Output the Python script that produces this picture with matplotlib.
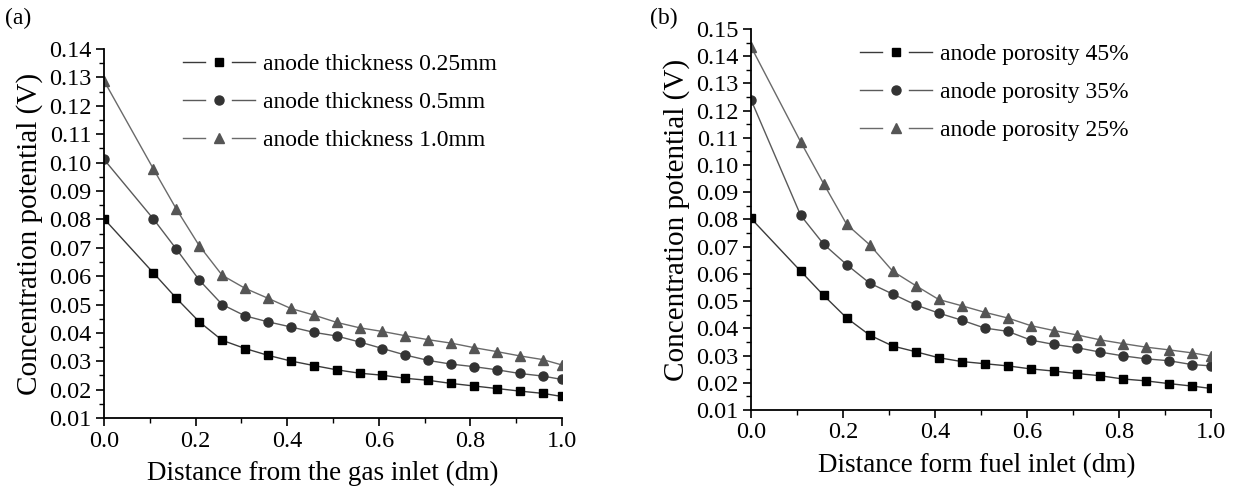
import matplotlib
matplotlib.use("Agg")
import matplotlib.pyplot as plt
from matplotlib.lines import Line2D
from matplotlib.legend_handler import HandlerBase
from matplotlib.ticker import MultipleLocator, FormatStrFormatter

plt.rcParams["font.family"] = ["Liberation Serif", "DejaVu Serif"]

# shared x positions of the data points (dm)
x = [0.0, 0.108, 0.158, 0.208, 0.258, 0.308, 0.358, 0.408, 0.458, 0.508,
     0.558, 0.608, 0.658, 0.708, 0.758, 0.808, 0.858, 0.908, 0.958, 1.0]

# panel (a): anode thickness
thick_025 = [0.0802, 0.0611, 0.0522, 0.0439, 0.0374, 0.0345, 0.0321, 0.0301, 0.0285, 0.0270,
             0.0258, 0.0251, 0.0240, 0.0233, 0.0222, 0.0213, 0.0204, 0.0195, 0.0187, 0.0176]
thick_05 = [0.1011, 0.0801, 0.0695, 0.0586, 0.0500, 0.0460, 0.0439, 0.0421, 0.0402, 0.0389,
            0.0368, 0.0345, 0.0322, 0.0303, 0.0290, 0.0281, 0.0270, 0.0257, 0.0248, 0.0236]
thick_10 = [0.1288, 0.0977, 0.0836, 0.0707, 0.0603, 0.0557, 0.0522, 0.0486, 0.0463, 0.0437,
            0.0418, 0.0405, 0.0390, 0.0376, 0.0364, 0.0348, 0.0334, 0.0319, 0.0306, 0.0287]

# panel (b): anode porosity
poro_45 = [0.0804, 0.0610, 0.0521, 0.0438, 0.0375, 0.0335, 0.0314, 0.0292, 0.0278, 0.0270,
           0.0262, 0.0251, 0.0243, 0.0234, 0.0226, 0.0214, 0.0207, 0.0197, 0.0188, 0.0179]
poro_35 = [0.1240, 0.0815, 0.0709, 0.0634, 0.0566, 0.0526, 0.0486, 0.0456, 0.0430, 0.0401,
           0.0389, 0.0357, 0.0341, 0.0329, 0.0313, 0.0299, 0.0288, 0.0281, 0.0267, 0.0262]
poro_25 = [0.1435, 0.1085, 0.0931, 0.0782, 0.0707, 0.0610, 0.0557, 0.0506, 0.0483, 0.0459,
           0.0438, 0.0410, 0.0392, 0.0376, 0.0358, 0.0344, 0.0331, 0.0321, 0.0310, 0.0298]

labels_a = ["anode thickness 0.25mm", "anode thickness 0.5mm", "anode thickness 1.0mm"]
labels_b = ["anode porosity 45%", "anode porosity 35%", "anode porosity 25%"]

styles = [
    dict(marker="s", color="#3a3a3a", mfc="#000000", mec="#000000", ms=6),
    dict(marker="o", color="#5a5a5a", mfc="#333333", mec="#333333", ms=6.5),
    dict(marker="^", color="#6a6a6a", mfc="#555555", mec="#555555", ms=7),
]


class GapLineHandler(HandlerBase):
    # origin-style legend key: line, gap, marker, gap, line
    def create_artists(self, legend, orig, xd, yd, width, height, fontsize, trans):
        x0 = -xd
        yc = height / 2 - yd
        color = orig.get_color()
        lw = orig.get_linewidth()
        left = Line2D([x0, x0 + 0.3 * width], [yc, yc], color=color, lw=lw)
        right = Line2D([x0 + 0.68 * width, x0 + width], [yc, yc], color=color, lw=lw)
        mark = Line2D([x0 + width / 2], [yc], linestyle="none", marker=orig.get_marker(),
                      markersize=orig.get_markersize(), markerfacecolor=orig.get_markerfacecolor(),
                      markeredgecolor=orig.get_markeredgecolor())
        for a in (left, right, mark):
            a.set_transform(trans)
        return [left, right, mark]


def draw_panel(ax, series, labels, ymin, ymax, xlabel, legend_xy, xlabel_x):
    handles = []
    for y, lab, st in zip(series, labels, styles):
        h, = ax.plot(x, y, lw=1.0, label=lab, **st)
        handles.append(h)
    ax.set_xlim(0, 1.0)
    ax.set_ylim(ymin, ymax)
    ax.xaxis.set_major_locator(MultipleLocator(0.2))
    ax.xaxis.set_minor_locator(MultipleLocator(0.1))
    ax.yaxis.set_major_locator(MultipleLocator(0.01))
    ax.yaxis.set_minor_locator(MultipleLocator(0.005))
    ax.xaxis.set_major_formatter(FormatStrFormatter("%.1f"))
    ax.yaxis.set_major_formatter(FormatStrFormatter("%.2f"))
    ax.tick_params(which="major", direction="out", length=6, width=1.2, labelsize=17.5, pad=3)
    ax.tick_params(which="minor", direction="out", length=3.5, width=1.0)
    for s in ("top", "right"):
        ax.spines[s].set_visible(False)
    for s in ("left", "bottom"):
        ax.spines[s].set_linewidth(1.3)
    ax.set_xlabel(xlabel, fontsize=19.5, labelpad=7)
    ax.xaxis.label.set_x(xlabel_x)
    ax.set_ylabel("Concentration potential (V)", fontsize=21, labelpad=4)
    ax.legend(handles=handles, loc="upper left", bbox_to_anchor=legend_xy,
              bbox_transform=fig.transFigure, frameon=False, borderpad=0, borderaxespad=0,
              fontsize=17, handlelength=3.05, handletextpad=0.35, labelspacing=0.7,
              handler_map={Line2D: GapLineHandler()})


fig = plt.figure(figsize=(12.34, 4.93), dpi=100)
ax_a = fig.add_axes([0.0843, 0.152, 0.3711, 0.7486])
ax_b = fig.add_axes([0.6086, 0.1684, 0.3728, 0.7728])

draw_panel(ax_a, [thick_025, thick_05, thick_10], labels_a, 0.01, 0.14,
           "Distance from the gas inlet (dm)", (0.1483, 0.892), 0.478)
draw_panel(ax_b, [poro_45, poro_35, poro_25], labels_b, 0.01, 0.15,
           "Distance form fuel inlet (dm)", (0.6969, 0.912), 0.49)

fig.text(0.004, 0.963, "(a)", fontsize=17, ha="left", va="center")
fig.text(0.527, 0.963, "(b)", fontsize=17, ha="left", va="center")

fig.savefig("out.png", dpi=100)
